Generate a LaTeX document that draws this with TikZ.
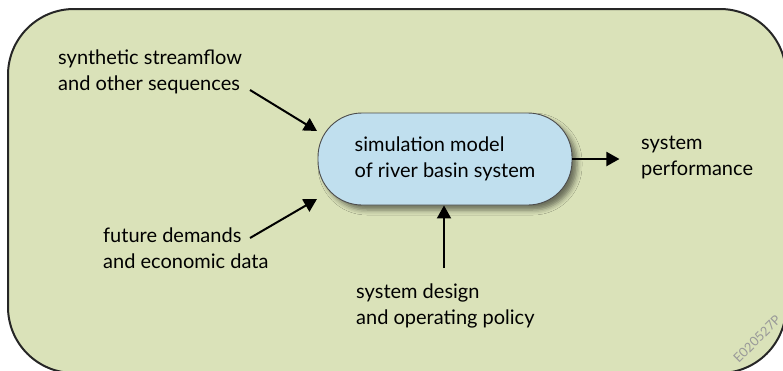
\documentclass[tikz,border=0pt]{standalone}
\usepackage{fontspec}
\setmainfont{Lato}
\usetikzlibrary{arrows.meta,shadows.blur}

\definecolor{panelgreen}{RGB}{218,226,185}
\definecolor{modelblue}{RGB}{192,223,238}

\begin{document}
\begin{tikzpicture}[
  x=1pt, y=-1pt,
  panel/.style={draw=black!85, line width=2pt, fill=panelgreen, rounded corners=66pt},
  model/.style={draw=black!70, line width=0.9pt, fill=modelblue, rounded corners=44pt,
    minimum width=254pt, minimum height=92pt, align=left, inner sep=0pt,
    blur shadow={shadow xshift=5pt, shadow yshift=-5pt, shadow blur radius=5pt, shadow opacity=50}},
  lbl/.style={align=left, anchor=north west, inner sep=0pt},
  flow/.style={-{Triangle[length=13pt,width=14pt]}, line width=2pt, draw=black},
  txt/.style={font=\fontsize{20}{26}\selectfont}
]
  \useasboundingbox (0,0) rectangle (783,370);

  % background panel
  \draw[panel] (8,9) rectangle (786,373);

  % model
  \node[model, txt] (sim) at (445,159) {simulation model\\of river basin system};

  % inputs and output
  \node[lbl, txt] (synth) at (58,50) {synthetic streamflow\\and other sequences};
  \node[lbl, txt] (demand) at (103,228) {future demands\\and economic data};
  \node[lbl, txt] (design) at (356,284) {system design\\and operating policy};
  \node[lbl, txt] (perf) at (641,136) {system\\performance};

  \coordinate (synthend) at (250,90);
  \coordinate (demandend) at (250,238);
  \coordinate (designend) at (444,268);

  \draw[flow] (synthend) -- (317,131);
  \draw[flow] (demandend) -- (317,199);
  \draw[flow] (designend) -- (sim.south -| designend);
  \draw[flow] (sim.east) -- ++(47,0);

  % figure code
  \node[rotate=45, text=black!40, inner sep=0pt, font=\fontsize{13}{15}\selectfont] (code) at (757,339) {E020527P};
\end{tikzpicture}
\end{document}
